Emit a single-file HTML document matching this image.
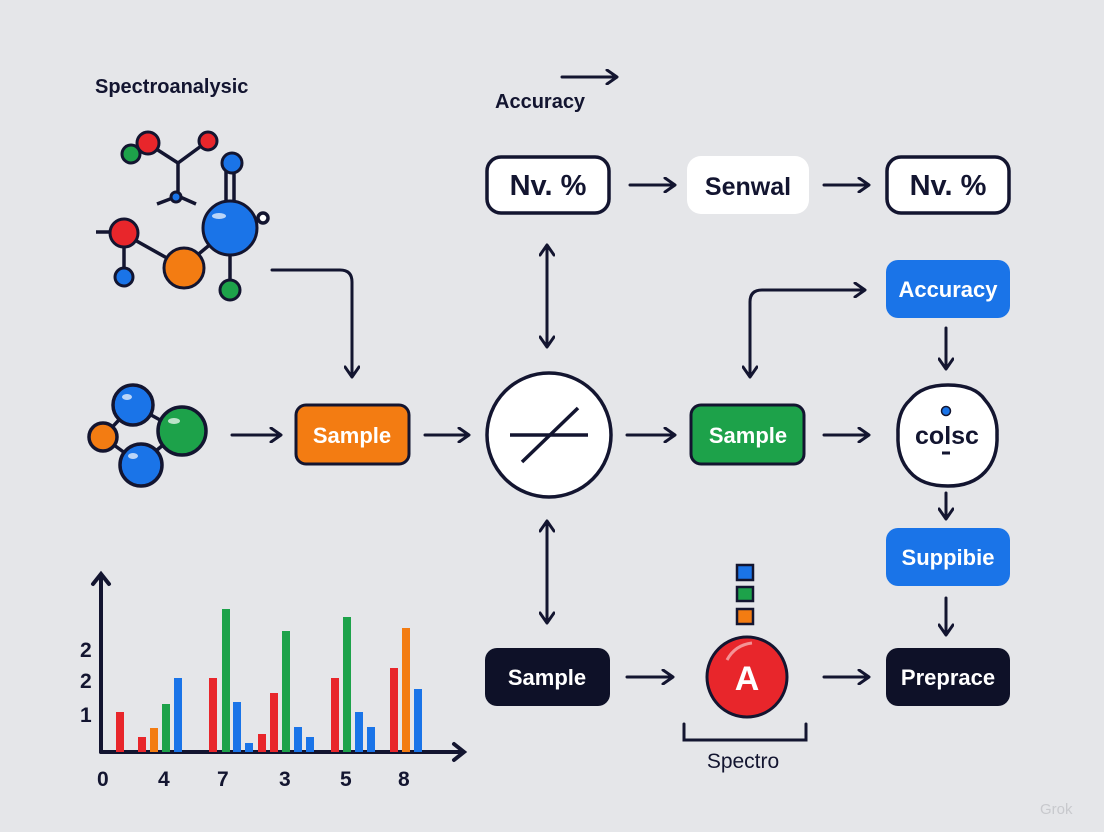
<!DOCTYPE html>
<html><head><meta charset="utf-8"><style>
html,body{margin:0;padding:0;background:#e5e6e9;}
svg{display:block}
text{font-family:"Liberation Sans",sans-serif;}
</style></head><body>
<svg width="1104" height="832" viewBox="0 0 1104 832" xmlns="http://www.w3.org/2000/svg">
<defs>
<marker id="ah" markerWidth="10" markerHeight="10" refX="7" refY="5" orient="auto" markerUnits="userSpaceOnUse">
<path d="M1,0 L8,5 L1,10" fill="none" stroke="#131530" stroke-width="3" stroke-linecap="round" stroke-linejoin="round"/>
</marker>
<marker id="ah2" markerWidth="16" markerHeight="16" refX="11" refY="8" orient="auto-start-reverse" markerUnits="userSpaceOnUse">
<path d="M2,1 L12,8 L2,15" fill="none" stroke="#131530" stroke-width="3" stroke-linecap="round" stroke-linejoin="round"/>
</marker>
</defs>
<rect width="1104" height="832" fill="#e5e6e9"/>
<g stroke="#131530" stroke-width="3" fill="none" stroke-linecap="round">
<!-- top text arrow -->
<line x1="562" y1="77" x2="616" y2="77" marker-end="url(#ah2)"/>
<!-- horizontal arrows -->
<line x1="630" y1="185" x2="674" y2="185" marker-end="url(#ah2)"/>
<line x1="824" y1="185" x2="868" y2="185" marker-end="url(#ah2)"/>
<line x1="232" y1="435" x2="280" y2="435" marker-end="url(#ah2)"/>
<line x1="425" y1="435" x2="468" y2="435" marker-end="url(#ah2)"/>
<line x1="627" y1="435" x2="674" y2="435" marker-end="url(#ah2)"/>
<line x1="824" y1="435" x2="868" y2="435" marker-end="url(#ah2)"/>
<line x1="627" y1="677" x2="672" y2="677" marker-end="url(#ah2)"/>
<line x1="824" y1="677" x2="868" y2="677" marker-end="url(#ah2)"/>
<!-- vertical double -->
<line x1="547" y1="246" x2="547" y2="346" marker-start="url(#ah2)" marker-end="url(#ah2)"/>
<line x1="547" y1="522" x2="547" y2="622" marker-start="url(#ah2)" marker-end="url(#ah2)"/>
<!-- right verticals -->
<line x1="946" y1="328" x2="946" y2="368" marker-end="url(#ah2)"/>
<line x1="946" y1="493" x2="946" y2="518" marker-end="url(#ah2)"/>
<line x1="946" y1="598" x2="946" y2="634" marker-end="url(#ah2)"/>
<!-- elbow -->
<path d="M750,376 L750,302 Q750,290 762,290 L864,290" marker-start="url(#ah2)" marker-end="url(#ah2)"/>
<path d="M272,270 L340,270 Q352,270 352,282 L352,376" marker-end="url(#ah2)"/>
<!-- bracket -->
<path d="M684,724 L684,740 L806,740 L806,724"/>
</g>
<text x="95" y="93" font-size="20" font-weight="bold" fill="#131530">Spectroanalysic</text>
<text x="495" y="108" font-size="20" font-weight="bold" fill="#131530">Accuracy</text>
<!-- top boxes -->
<rect x="487" y="157" width="122" height="56" rx="14" fill="#fff" stroke="#131530" stroke-width="3.5"/>
<text x="548" y="195" font-size="29" font-weight="bold" fill="#131530" text-anchor="middle">Nv. %</text>
<rect x="687" y="156" width="122" height="58" rx="14" fill="#fff"/>
<text x="748" y="195" font-size="25" font-weight="bold" fill="#131530" text-anchor="middle">Senwal</text>
<rect x="887" y="157" width="122" height="56" rx="14" fill="#fff" stroke="#131530" stroke-width="3.5"/>
<text x="948" y="195" font-size="29" font-weight="bold" fill="#131530" text-anchor="middle">Nv. %</text>
<!-- blue boxes -->
<rect x="886" y="260" width="124" height="58" rx="12" fill="#1a74e8"/>
<text x="948" y="297" font-size="22" font-weight="bold" fill="#fff" text-anchor="middle">Accuracy</text>
<rect x="886" y="528" width="124" height="58" rx="12" fill="#1a74e8"/>
<text x="948" y="565" font-size="22" font-weight="bold" fill="#fff" text-anchor="middle">Suppibie</text>
<!-- sample boxes -->
<rect x="296" y="405" width="113" height="59" rx="10" fill="#f37c12" stroke="#131530" stroke-width="3"/>
<text x="352" y="443" font-size="22" font-weight="bold" fill="#fff" text-anchor="middle">Sample</text>
<rect x="691" y="405" width="113" height="59" rx="10" fill="#1da24a" stroke="#131530" stroke-width="3"/>
<text x="748" y="443" font-size="22" font-weight="bold" fill="#fff" text-anchor="middle">Sample</text>
<rect x="485" y="648" width="125" height="58" rx="12" fill="#0e1128"/>
<text x="547" y="685" font-size="22" font-weight="bold" fill="#fff" text-anchor="middle">Sample</text>
<rect x="886" y="648" width="124" height="58" rx="12" fill="#0e1128"/>
<text x="948" y="685" font-size="22" font-weight="bold" fill="#fff" text-anchor="middle">Preprace</text>
<!-- center circle -->
<circle cx="549" cy="435" r="62" fill="#fff" stroke="#131530" stroke-width="3.5"/>
<line x1="510" y1="435" x2="588" y2="435" stroke="#131530" stroke-width="3.5"/>
<line x1="522" y1="462" x2="578" y2="408" stroke="#131530" stroke-width="3.5"/>
<!-- colsc -->
<path d="M948,385 Q975,385 985,400 Q998,415 997,435 Q998,458 985,472 Q972,486 948,486 Q922,486 910,472 Q897,458 898,435 Q897,412 910,400 Q922,385 948,385 Z" fill="#fff" stroke="#131530" stroke-width="3.5"/>
<circle cx="946" cy="411" r="4.5" fill="#1a74e8" stroke="#131530" stroke-width="1.5"/>
<text x="947" y="444" font-size="25" font-weight="bold" fill="#131530" text-anchor="middle">colsc</text>
<line x1="942" y1="453" x2="950" y2="453" stroke="#131530" stroke-width="3"/>
<!-- red A -->
<rect x="737" y="565" width="16" height="15" fill="#1a74e8" stroke="#131530" stroke-width="2.5"/>
<rect x="737" y="587" width="16" height="14" fill="#1da24a" stroke="#131530" stroke-width="2.5"/>
<rect x="737" y="609" width="16" height="15" fill="#f37c12" stroke="#131530" stroke-width="2.5"/>
<circle cx="747" cy="677" r="40" fill="#e8262b" stroke="#131530" stroke-width="3"/>
<path d="M727,660 Q735,645 752,643" stroke="#fff" stroke-width="3" fill="none" opacity="0.5"/>
<text x="747" y="690" font-size="34" font-weight="bold" fill="#fff" text-anchor="middle">A</text>
<text x="743" y="768" font-size="21" fill="#131530" text-anchor="middle">Spectro</text>
<!-- molecule top -->
<g stroke="#131530" stroke-width="3.5" fill="none">
<line x1="150" y1="145" x2="178" y2="163"/><line x1="208" y1="141" x2="178" y2="163"/>
<line x1="178" y1="163" x2="178" y2="197"/>
<line x1="158" y1="204" x2="198" y2="204" stroke-width="0"/>
<path d="M157,204 L178,196 L196,204"/>
<line x1="226" y1="165" x2="226" y2="200"/><line x1="234" y1="165" x2="234" y2="200"/>
<line x1="96" y1="232" x2="124" y2="232"/>
<line x1="124" y1="234" x2="124" y2="275"/>
<line x1="124" y1="234" x2="183" y2="267"/>
<line x1="183" y1="267" x2="230" y2="228"/>
<line x1="230" y1="228" x2="230" y2="290"/>
<circle cx="263" cy="218" r="5" fill="#fff"/>
</g>
<g stroke="#131530" stroke-width="3">
<circle cx="131" cy="154" r="9" fill="#1da24a"/>
<circle cx="148" cy="143" r="11" fill="#e8262b"/>
<circle cx="208" cy="141" r="9" fill="#e8262b"/>
<circle cx="176" cy="197" r="5" fill="#1a74e8"/>
<circle cx="232" cy="163" r="10" fill="#1a74e8"/>
<circle cx="230" cy="228" r="27" fill="#1a74e8"/>
<circle cx="124" cy="233" r="14" fill="#e8262b"/>
<circle cx="124" cy="277" r="9" fill="#1a74e8"/>
<circle cx="184" cy="268" r="20" fill="#f37c12"/>
<circle cx="230" cy="290" r="10" fill="#1da24a"/>
</g>
<!-- molecule 2 -->
<g stroke="#131530" stroke-width="3.5">
<line x1="103" y1="437" x2="133" y2="405"/>
<line x1="103" y1="437" x2="140" y2="464"/>
<line x1="133" y1="405" x2="180" y2="431"/>
<line x1="140" y1="464" x2="180" y2="431"/>
<circle cx="133" cy="405" r="20" fill="#1a74e8"/>
<circle cx="103" cy="437" r="14" fill="#f37c12"/>
<circle cx="141" cy="465" r="21" fill="#1a74e8"/>
<circle cx="182" cy="431" r="24" fill="#1da24a"/>
</g>
<g fill="#fff" opacity="0.7">
<ellipse cx="127" cy="397" rx="5" ry="3"/><ellipse cx="174" cy="421" rx="6" ry="3"/><ellipse cx="133" cy="456" rx="5" ry="3"/><ellipse cx="219" cy="216" rx="7" ry="3"/>
</g>
<!-- chart -->
<g stroke="#131530" stroke-width="4" fill="none" stroke-linecap="round">
<line x1="101" y1="752" x2="101" y2="576"/>
<path d="M93,584 L101,574 L109,584"/>
<line x1="101" y1="752" x2="462" y2="752"/>
<path d="M454,744 L464,752 L454,760"/>
</g>
<g>
<rect x="116" y="712" width="8" height="40" fill="#e8262b"/>
<rect x="138" y="737" width="8" height="15" fill="#e8262b"/>
<rect x="150" y="728" width="8" height="24" fill="#f37c12"/>
<rect x="162" y="704" width="8" height="48" fill="#1da24a"/>
<rect x="174" y="678" width="8" height="74" fill="#1a74e8"/>
<rect x="209" y="678" width="8" height="74" fill="#e8262b"/>
<rect x="222" y="609" width="8" height="143" fill="#1da24a"/>
<rect x="233" y="702" width="8" height="50" fill="#1a74e8"/>
<rect x="245" y="743" width="8" height="9" fill="#1a74e8"/>
<rect x="258" y="734" width="8" height="18" fill="#e8262b"/>
<rect x="270" y="693" width="8" height="59" fill="#e8262b"/>
<rect x="282" y="631" width="8" height="121" fill="#1da24a"/>
<rect x="294" y="727" width="8" height="25" fill="#1a74e8"/>
<rect x="306" y="737" width="8" height="15" fill="#1a74e8"/>
<rect x="331" y="678" width="8" height="74" fill="#e8262b"/>
<rect x="343" y="617" width="8" height="135" fill="#1da24a"/>
<rect x="355" y="712" width="8" height="40" fill="#1a74e8"/>
<rect x="367" y="727" width="8" height="25" fill="#1a74e8"/>
<rect x="390" y="668" width="8" height="84" fill="#e8262b"/>
<rect x="402" y="628" width="8" height="124" fill="#f37c12"/>
<rect x="414" y="689" width="8" height="63" fill="#1a74e8"/>
</g>
<g font-size="21" font-weight="bold" fill="#131530">
<text x="80" y="657">2</text><text x="80" y="688">2</text><text x="80" y="722">1</text>
<text x="97" y="786">0</text><text x="158" y="786">4</text><text x="217" y="786">7</text>
<text x="279" y="786">3</text><text x="340" y="786">5</text><text x="398" y="786">8</text>
</g>
<text x="1040" y="814" font-size="15" fill="#c8c9cd">Grok</text>
</svg>
</body></html>
